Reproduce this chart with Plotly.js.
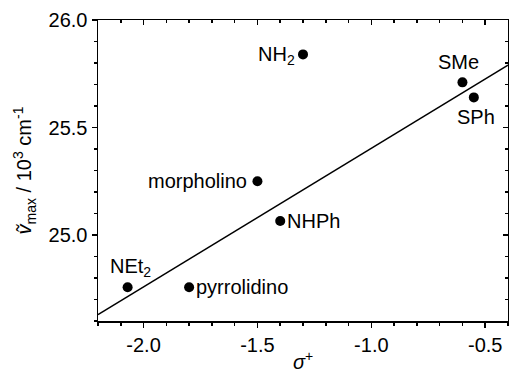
<!DOCTYPE html>
<html>
<head>
<meta charset="utf-8">
<script src="https://cdn.plot.ly/plotly-3.0.1.min.js"></script>
<style>
  html, body { margin: 0; padding: 0; background: #fff; }
  #chart { width: 509px; height: 373px; }
</style>
</head>
<body>
<div id="chart"></div>
<script>
// Substituent constants (sigma+) and absorption maxima (10^3 cm^-1)
const substituents = ['NH<sub>2</sub>', 'SMe', 'SPh', 'morpholino', 'NHPh', 'NEt<sub>2</sub>', 'pyrrolidino'];
const sigmaPlus    = [-1.30, -0.60, -0.55, -1.50, -1.40, -2.07, -1.80];
const nuMax        = [25.84, 25.71, 25.64, 25.25, 25.065, 24.757, 24.757];
// NH2 is left out of the linear fit
const inFit        = [false, true, true, true, true, true, true];

const xRange = [-2.2, -0.4];
const yRange = [24.6, 26.0];

// least-squares line through the fitted points
const fx = sigmaPlus.filter((_, i) => inFit[i]);
const fy = nuMax.filter((_, i) => inFit[i]);
const mx = fx.reduce((a, b) => a + b, 0) / fx.length;
const my = fy.reduce((a, b) => a + b, 0) / fy.length;
let sxy = 0, sxx = 0;
fx.forEach((x, i) => { sxy += (x - mx) * (fy[i] - my); sxx += (x - mx) * (x - mx); });
const slope = sxy / sxx;
const intercept = my - slope * mx;
const fitX = xRange.slice();
const fitY = fitX.map(x => intercept + slope * x);

// label placement around each marker: [xanchor, yanchor, xshift, yshift]
const labelPos = [
  ['right', 'middle', -6, -1],
  ['center', 'middle', -4, 20],
  ['center', 'middle', 2, -20],
  ['right', 'middle', -8, 0],
  ['left', 'middle', 5, 0],
  ['center', 'middle', 3, 20],
  ['left', 'middle', 5, 0]
];

const FONT = 'Liberation Sans, Arial, sans-serif';
const FS = 20;

const traces = [
  {
    x: fitX, y: fitY, mode: 'lines', type: 'scatter',
    line: { color: '#000', width: 1.5 }, hoverinfo: 'skip', showlegend: false
  },
  {
    x: sigmaPlus, y: nuMax, mode: 'markers', type: 'scatter',
    marker: { color: '#000', size: 10 }, showlegend: false
  },
  // carries the mirrored top/right axes
  { x: [], y: [], xaxis: 'x2', yaxis: 'y2', type: 'scatter', showlegend: false }
];

const annotations = substituents.map((t, i) => ({
  x: sigmaPlus[i], y: nuMax[i], xref: 'x', yref: 'y', text: t, showarrow: false,
  xanchor: labelPos[i][0], yanchor: labelPos[i][1],
  xshift: labelPos[i][2], yshift: labelPos[i][3],
  font: { family: FONT, size: FS, color: '#000' }
}));

const baseAxis = {
  showgrid: false, zeroline: false, showline: true,
  linecolor: '#000', linewidth: 1.5, tickcolor: '#000', tickwidth: 1.5,
  tickfont: { family: FONT, size: FS, color: '#000' }
};

const layout = {
  width: 509, height: 373,
  margin: { l: 98, r: 1, t: 20, b: 52 },
  paper_bgcolor: '#fff', plot_bgcolor: '#fff',
  font: { family: FONT, size: FS, color: '#000' },
  xaxis: Object.assign({}, baseAxis, {
    range: xRange, tickvals: [-2.0, -1.5, -1.0, -0.5], ticktext: ['-2.0', '-1.5', '-1.0', '-0.5'],
    ticks: 'outside', ticklen: 5,
    minor: { dtick: 0.1, tick0: 0, ticks: 'outside', ticklen: 3, tickcolor: '#000', tickwidth: 1.5 },
    title: { text: '<i>σ</i><sup>+</sup>', font: { family: FONT, size: FS }, standoff: 9 }
  }),
  yaxis: Object.assign({}, baseAxis, {
    range: yRange, tickvals: [25.0, 25.5, 26.0], ticktext: ['25.0', '25.5', '26.0'],
    ticks: 'outside', ticklen: 5,
    minor: { dtick: 0.1, tick0: 0, ticks: 'outside', ticklen: 3, tickcolor: '#000', tickwidth: 1.5 },
    title: { text: '<i>ṽ</i><sub>max</sub> / 10<sup>3</sup> cm<sup>-1</sup>', font: { family: FONT, size: FS }, standoff: 11 }
  }),
  xaxis2: Object.assign({}, baseAxis, {
    range: xRange, overlaying: 'x', side: 'top', anchor: 'y2',
    tickvals: [-2.0, -1.5, -1.0, -0.5], showticklabels: false,
    ticks: 'inside', ticklen: 5,
    minor: { dtick: 0.1, tick0: 0, ticks: 'inside', ticklen: 3, tickcolor: '#000', tickwidth: 1.5 }
  }),
  yaxis2: Object.assign({}, baseAxis, {
    range: yRange, overlaying: 'y', side: 'right', anchor: 'x2',
    tickvals: [25.0, 25.5, 26.0], showticklabels: false,
    ticks: 'inside', ticklen: 5,
    minor: { dtick: 0.1, tick0: 0, ticks: 'inside', ticklen: 3, tickcolor: '#000', tickwidth: 1.5 }
  }),
  annotations: annotations
};

Plotly.newPlot('chart', traces, layout, { displayModeBar: false, staticPlot: true });
</script>
</body>
</html>
